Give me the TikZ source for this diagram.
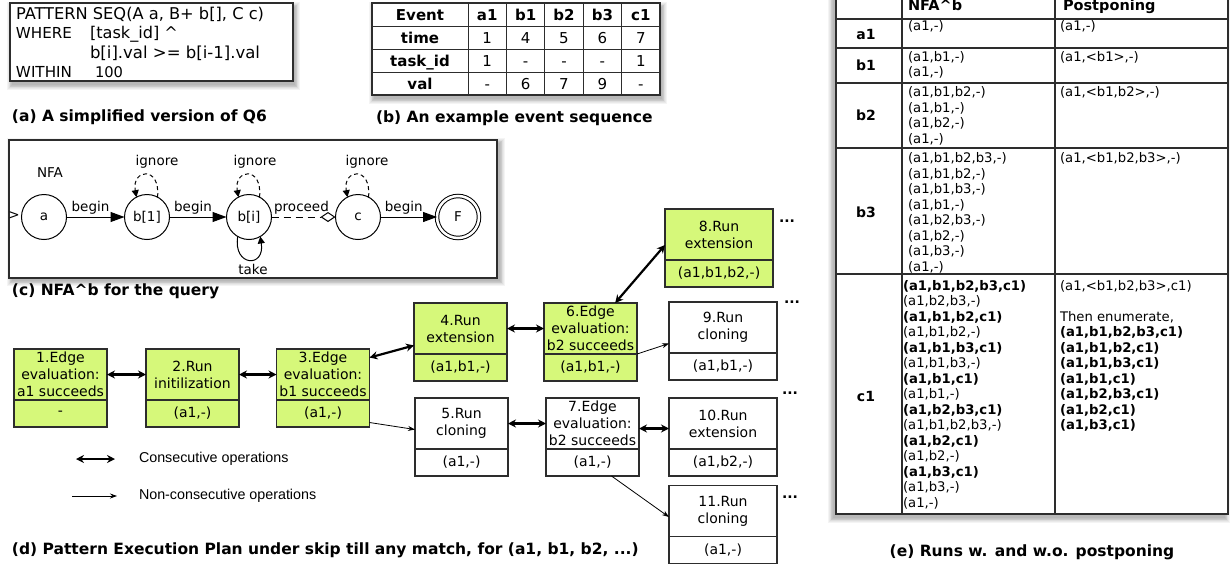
\documentclass[tikz,border=0pt]{standalone}
\usepackage{fontspec}
\setmainfont{DejaVu Sans}
\newfontfamily\arialf{Liberation Sans}
\usetikzlibrary{arrows.meta,calc}
\definecolor{lgreen}{RGB}{214,248,122}
\definecolor{bord}{RGB}{45,45,45}
\newcommand\fsz[2]{\fontsize{#1}{#2}\selectfont}
\newcommand\qline[2]{\resizebox{#1pt}{!}{\fsz{16}{19}#2}}
\newcommand\myshadow[6]{\foreach \k in {0,...,6}{\fill[black,opacity=0.045] ({#1+#5-\k*0.8},{#2+#6-\k*0.8}) rectangle ({#3+#5+\k*0.8},{#4+#6+\k*0.8});}}
\begin{document}
\begin{tikzpicture}[x=1pt,y=-1pt,
  every node/.style={inner sep=0pt,outer sep=0pt},
  pbbox/.style={draw=bord,line width=1.1pt,minimum width=93pt,align=center,font=\fsz{14}{17}},
  pbup/.style={pbbox,minimum height=51pt},
  pblo/.style={pbbox,minimum height=27pt},
  pbwide/.style={minimum width=108pt},
  pbgreen/.style={fill=lgreen},
  pbwhite/.style={fill=white},
  cons/.style={line width=2.2pt,{Stealth[length=8pt,width=8pt]}-{Stealth[length=8pt,width=8pt]}},
  ncons/.style={line width=0.8pt,-{Stealth[length=7pt,width=5pt]}},
  nfast/.style={draw,circle,line width=1pt,minimum size=45pt,font=\fsz{13.5}{16}},
  lbl/.style={font=\fsz{13.5}{16}},
  captxt/.style={font=\bfseries\fsz{15.5}{18},anchor=base west},
  dotstxt/.style={font=\bfseries\fsz{14}{17}},
  cell/.style={anchor=north west,align=left,font=\fsz{13.2}{15.5}},
  rowl/.style={font=\bfseries\fsz{14}{17}},
  tbl/.style={font=\fsz{15}{18},anchor=base},
  ign/.style={dash pattern=on 4pt off 3pt,line width=1pt,-{Triangle[length=7pt,width=7pt]}},
  beg/.style={line width=1pt,-{Triangle[length=14pt,width=10pt]}},
  qtxt/.style={anchor=base west}
]
\useasboundingbox (0,0) rectangle (1231,568);
\fill[white] (0,0) rectangle (1231,568);
\clip (0,0) rectangle (1231,568);

% ---------------- (a) query box
\myshadow{10}{3}{293}{81}{2}{4}
\node[draw=bord,fill=white,line width=1.2pt,minimum width=283pt,minimum height=78pt,anchor=north west] (qbox) at (10,3) {};
\node[qtxt] (q1) at (16,19) {\qline{248}{PATTERN SEQ(A a, B+ b[], C c)}};
\node[qtxt] (q2) at (16,38.5) {\qline{56}{WHERE}};
\node[qtxt] (q2b) at (90,38.5) {\qline{88}{[task\_id] \textasciicircum}};
\node[qtxt] (q3) at (90,58) {\qline{170}{b[i].val >= b[i-1].val}};
\node[qtxt] (q4) at (16,77.5) {\qline{56}{WITHIN}};
\node[qtxt] (q4b) at (95,77.5) {\qline{28}{100}};
\node[captxt] (capa) at (12,121.5) {(a) A simplified version of Q6};

% ---------------- (b) event table
\myshadow{372}{3}{660}{95}{2}{4}
\fill[white] (372,3) rectangle (660,95);
\draw[bord,line width=1.2pt] (372,3) rectangle (660,95);
\foreach \y in {26,49,72} \draw[bord,line width=1pt] (372,\y) -- (660,\y);
\foreach \x in {468,506.4,544.8,583.2,621.6} \draw[bord,line width=1pt] (\x,3) -- (\x,95);
\foreach \t/\x [count=\i] in {Event/420,a1/487.2,b1/525.6,b2/564,b3/602.4,c1/640.8}
  \node[tbl,font=\bfseries\fsz{15}{18}] (ev-\i) at (\x,20) {\t};
\node[tbl,font=\bfseries\fsz{15}{18}] (tm-1) at (420,43) {time};
\foreach \t/\x [count=\i from 2] in {1/487.2,4/525.6,5/564,6/602.4,7/640.8}
  \node[tbl] (tm-\i) at (\x,43) {\t};
\node[tbl,font=\bfseries\fsz{15}{18}] (tk-1) at (420,66) {task\_id};
\foreach \t/\x [count=\i from 2] in {1/487.2,-/525.6,-/564,-/602.4,1/640.8}
  \node[tbl] (tk-\i) at (\x,66) {\t};
\node[tbl,font=\bfseries\fsz{15}{18}] (vl-1) at (420,89) {val};
\foreach \t/\x [count=\i from 2] in {-/487.2,6/525.6,7/564,9/602.4,-/640.8}
  \node[tbl] (vl-\i) at (\x,89) {\t};
\node[captxt] (capb) at (376,122) {(b) An example event sequence};

% ---------------- (c) NFA
\myshadow{9}{140}{497}{278}{3}{3}
\node[draw=bord,fill=white,line width=1.2pt,minimum width=488pt,minimum height=138pt,anchor=north west] (nfabox) at (9,140) {};
\node[lbl] (nfalbl) at (50,173) {NFA};
\node[lbl] (startmk) at (14,216) {>};
\node[nfast] (na) at (44,217) {a};
\node[nfast] (nb1) at (147,217) {b[1]};
\node[nfast] (nbi) at (249,217) {b[i]};
\node[nfast] (nc) at (358,217) {c};
\node[nfast,double,double distance=2.5pt,minimum size=42pt] (nF) at (458,217) {F};
\draw[beg] (na) -- node[lbl,above=3pt,xshift=-5pt] (lb1) {begin} (nb1);
\draw[beg] (nb1) -- node[lbl,above=3pt,xshift=-5pt] (lb2) {begin} (nbi);
\draw[dash pattern=on 7pt off 5pt,line width=1pt,-{Diamond[open,length=15pt,width=10pt]}] (nbi) -- node[lbl,above=3pt,xshift=-2pt] (lpr) {proceed} (nc);
\draw[beg] (nc) -- node[lbl,above=3pt,xshift=-5pt] (lb3) {begin} (nF);
\draw[ign] (nb1.62) .. controls +(3,-32) and +(-5,-28) .. (nb1.118);
\draw[ign] (nbi.62) .. controls +(3,-32) and +(-5,-28) .. (nbi.118);
\draw[ign] (nc.62) .. controls +(3,-32) and +(-5,-28) .. (nc.118);
\node[lbl] (ig1) at (157,162) {ignore};
\node[lbl] (ig2) at (255,162) {ignore};
\node[lbl] (ig3) at (367,162) {ignore};
\draw[line width=1pt,-{Triangle[length=7pt,width=7pt]}] (nbi.240) .. controls +(-5,30) and +(5,32) .. (nbi.300);
\node[lbl] (tk) at (253,269) {take};
\node[captxt] (capc) at (12,295) {(c) NFA\textasciicircum b for the query};

% ---------------- (d) pattern execution plan
\node[pbup,pbgreen] (b1u) at (60.5,374.5) {1.Edge\\evaluation:\\a1 succeeds};
\node[pblo,pbgreen] (b1l) at (60.5,413.5) {-};
\node[pbup,pbgreen] (b2u) at (192.5,374.5) {2.Run\\initilization};
\node[pblo,pbgreen] (b2l) at (192.5,413.5) {(a1,-)};
\node[pbup,pbgreen] (b3u) at (323,374.5) {3.Edge\\evaluation:\\b1 succeeds};
\node[pblo,pbgreen] (b3l) at (323,413.5) {(a1,-)};
\node[pbup,pbgreen] (b4u) at (460.5,328.5) {4.Run\\extension};
\node[pblo,pbgreen] (b4l) at (460.5,367.5) {(a1,b1,-)};
\node[pbup,pbgreen] (b6u) at (590.5,328.5) {6.Edge\\evaluation:\\b2 succeeds};
\node[pblo,pbgreen] (b6l) at (590.5,367.5) {(a1,b1,-)};
\node[pbup,pbgreen,pbwide] (b8u) at (719,234.5) {8.Run\\extension};
\node[pblo,pbgreen,pbwide] (b8l) at (719,273.5) {(a1,b1,b2,-)};
\node[pbup,pbwhite,pbwide] (b9u) at (723,327.5) {9.Run\\cloning};
\node[pblo,pbwhite,pbwide] (b9l) at (723,366.5) {(a1,b1,-)};
\node[pbup,pbwhite] (b5u) at (461.5,423.5) {5.Run\\cloning};
\node[pblo,pbwhite] (b5l) at (461.5,462.5) {(a1,-)};
\node[pbup,pbwhite] (b7u) at (592.5,423.5) {7.Edge\\evaluation:\\b2 succeeds};
\node[pblo,pbwhite] (b7l) at (592.5,462.5) {(a1,-)};
\node[pbup,pbwhite,pbwide] (b10u) at (723,423.5) {10.Run\\extension};
\node[pblo,pbwhite,pbwide] (b10l) at (723,462.5) {(a1,b2,-)};
\node[pbup,pbwhite,pbwide] (b11u) at (723,511) {11.Run\\cloning};
\node[pblo,pbwhite,pbwide] (b11l) at (723,550) {(a1,-)};

\draw[cons] (b1u.east) -- (b2u.west);
\draw[cons] (b2u.east) -- (b3u.west);
\draw[cons] (b3u.20) -- (b4u.200);
\draw[cons] (b4u.east) -- (b6u.west);
\draw[cons] (b6u.46) -- (b8u.191);
\draw[cons] (b5u.east) -- (b7u.west);
\draw[cons] ([yshift=-5pt]b7u.east) -- ([yshift=-5pt]b10u.west);
\draw[ncons] ([yshift=-9pt]b3l.east) -- ([yshift=-6pt]b5u.west);
\draw[ncons] (b6u.south east) -- ([yshift=-16pt]b9u.west);
\draw[ncons] ([xshift=19pt]b7l.south) -- ([yshift=-6pt]b11u.west);

\node[dotstxt] (d8) at (787,221) {...};
\node[dotstxt] (d9) at (792,302) {...};
\node[dotstxt] (d10) at (790,393) {...};
\node[dotstxt] (d11) at (790,497) {...};

\coordinate (lgA1) at (76,459);
\coordinate (lgA2) at (115,459);
\coordinate (lgB1) at (72,496);
\coordinate (lgB2) at (117,496);
\draw[cons] (lgA1) -- (lgA2);
\draw[ncons] (lgB1) -- (lgB2);
\node[anchor=west,font=\arialf\fsz{14.3}{17}] (lgT1) at (139,459) {Consecutive operations};
\node[anchor=west,font=\arialf\fsz{14.3}{17}] (lgT2) at (139,496) {Non-consecutive operations};
\node[captxt] (capd) at (12,554) {(d) Pattern Execution Plan under skip till any match, for (a1, b1, b2, ...)};

% ---------------- (e) runs table
\myshadow{836}{-20}{1228}{514}{-3}{4}
\fill[white] (836,-20) rectangle (1228,514);
\draw[bord,line width=1.3pt] (836,-20) rectangle (1228,514);
\foreach \x in {902,1055} \draw[bord,line width=1.3pt] (\x,-20) -- (\x,514);
\foreach \y in {19,48,83,148,274} \draw[bord,line width=1.3pt] (836,\y) -- (1228,\y);
\node[anchor=base west,font=\bfseries\fsz{14.5}{17}] (hNFA) at (908,10) {NFA\textasciicircum b};
\node[anchor=base west,font=\bfseries\fsz{14.5}{17}] (hPost) at (1063,10) {Postponing};
\node[rowl] (ra1) at (866,34) {a1};
\node[rowl] (rb1) at (866,65.5) {b1};
\node[rowl] (rb2) at (866,115.5) {b2};
\node[rowl] (rb3) at (866,212) {b3};
\node[rowl] (rc1) at (866,396) {c1};
\node[cell] (ca1n) at (908,20) {(a1,-)};
\node[cell] (ca1p) at (1060,20) {(a1,-)};
\node[cell] (cb1n) at (908,51) {(a1,b1,-)\\(a1,-)};
\node[cell] (cb1p) at (1060,51) {(a1,<b1>,-)};
\node[cell] (cb2n) at (908,86.5) {(a1,b1,b2,-)\\(a1,b1,-)\\(a1,b2,-)\\(a1,-)};
\node[cell] (cb2p) at (1060,86.5) {(a1,<b1,b2>,-)};
\node[cell] (cb3n) at (908,152.5) {(a1,b1,b2,b3,-)\\(a1,b1,b2,-)\\(a1,b1,b3,-)\\(a1,b1,-)\\(a1,b2,b3,-)\\(a1,b2,-)\\(a1,b3,-)\\(a1,-)};
\node[cell] (cb3p) at (1060,152.5) {(a1,<b1,b2,b3>,-)};
\node[cell] (cc1n) at (903,280) {\textbf{(a1,b1,b2,b3,c1)}\\(a1,b2,b3,-)\\\textbf{(a1,b1,b2,c1)}\\(a1,b1,b2,-)\\\textbf{(a1,b1,b3,c1)}\\(a1,b1,b3,-)\\\textbf{(a1,b1,c1)}\\(a1,b1,-)\\\textbf{(a1,b2,b3,c1)}\\(a1,b1,b2,b3,-)\\\textbf{(a1,b2,c1)}\\(a1,b2,-)\\\textbf{(a1,b3,c1)}\\(a1,b3,-)\\(a1,-)};
\node[cell] (cc1p) at (1060,280) {(a1,<b1,b2,b3>,c1)\\\mbox{}\\Then enumerate,\\\textbf{(a1,b1,b2,b3,c1)}\\\textbf{(a1,b1,b2,c1)}\\\textbf{(a1,b1,b3,c1)}\\\textbf{(a1,b1,c1)}\\\textbf{(a1,b2,b3,c1)}\\\textbf{(a1,b2,c1)}\\\textbf{(a1,b3,c1)}};
\node[font=\bfseries\fsz{15.5}{18},anchor=base] (cape) at (1032,556) {(e) Runs w. and w.o. postponing};
\end{tikzpicture}
\end{document}
